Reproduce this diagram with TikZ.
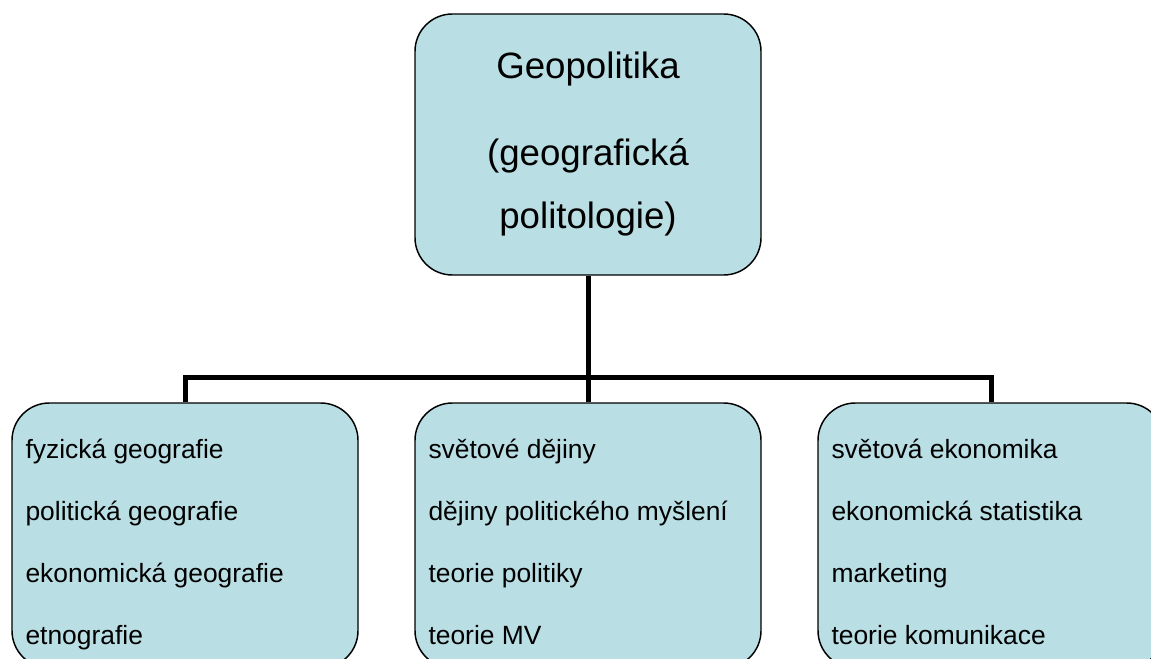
\documentclass[tikz,border=0pt]{standalone}
\usepackage[dvipsnames]{xcolor}
\usepackage{fontspec}
\setmainfont{Liberation Sans}
\definecolor{boxblue}{RGB}{185,222,228}

\begin{document}
\begin{tikzpicture}[x=0.75pt,y=-0.75pt,node distance=293.25pt,
  main node/.style={draw,line width=1.1pt,fill=boxblue,rounded corners=28pt,minimum width=259.5pt,inner sep=0pt},
  top node/.style={main node,minimum height=195.75pt,align=center,font=\fontsize{27.5}{47.25}\selectfont},
  sub node/.style={main node,minimum height=198.75pt},
  list node/.style={anchor=north west,inner sep=0pt,align=left,font=\fontsize{19.8}{46.5}\selectfont},
  link/.style={line width=3.75pt}]
  \useasboundingbox (0,0) rectangle (1151,659);
  \clip (0,0) rectangle (1151,659);

  \node[top node] (1) at (588,144.5) {Geopolitika\\[18pt] (geografická\\ politologie)};

  \node[sub node] (3) [below of=1] {};
  \node[sub node] (2) [left of=3, node distance=302.25pt] {};
  \node[sub node] (4) [right of=3, node distance=302.25pt] {};

  \node[list node] (5) at ([xshift=10.5pt,yshift=-27.4pt]2.north west) {fyzická geografie\\ politická geografie\\ ekonomická geografie\\ etnografie};
  \node[list node] (6) at ([xshift=10.5pt,yshift=-27.4pt]3.north west) {světové dějiny\\ dějiny politického myšlení\\ teorie politiky\\ teorie MV};
  \node[list node] (7) at ([xshift=10.5pt,yshift=-27.4pt]4.north west) {světová ekonomika\\ ekonomická statistika\\ marketing\\ teorie komunikace};

  \coordinate (j) at (588,377);
  \draw[link] (1.south) -- (j);
  \draw[link] (2.north) |- (j) -| (4.north);
  \draw[link] (3.north) -- (j);
\end{tikzpicture}
\end{document}
